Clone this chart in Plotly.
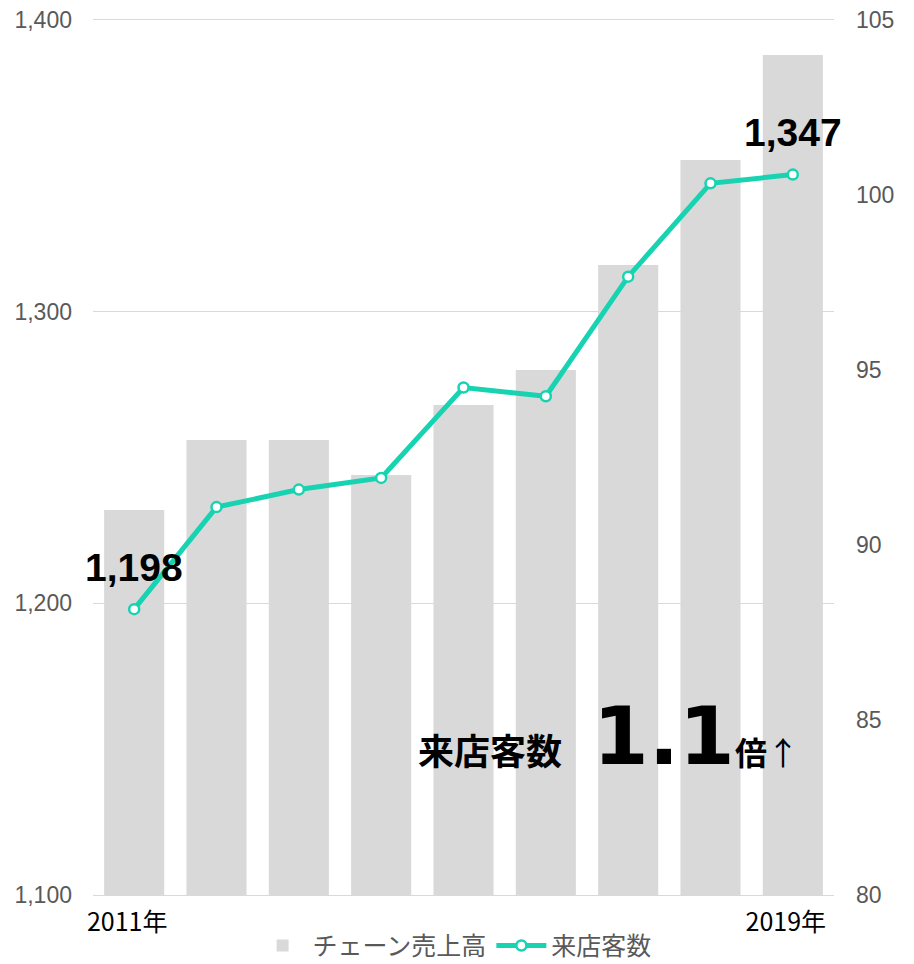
import plotly.graph_objects as go

years = [2011, 2012, 2013, 2014, 2015, 2016, 2017, 2018, 2019]
chain_sales = [91, 93, 93, 92, 94, 95, 98, 101, 104]          # right axis (bars)
customers = [1198, 1233, 1239, 1243, 1274, 1271, 1312, 1344, 1347]  # left axis (line)
x_tick_vals = [2011, 2019]
x_tick_text = ["2011年", "2019年"]
bar_name = "チェーン売上高"
line_name = "来店客数"

TEAL = "#17D3B1"
GREY = "#D9D9D9"
TICK = "#595959"

fig = go.Figure()
fig.add_trace(go.Bar(
    x=years, y=chain_sales, name=bar_name, yaxis="y",
    marker=dict(color=GREY, line=dict(width=0)),
))
fig.add_trace(go.Scatter(
    x=years, y=customers, name=line_name, yaxis="y2",
    mode="lines+markers",
    line=dict(color=TEAL, width=5),
    marker=dict(size=10, color="white", line=dict(color=TEAL, width=2.5)),
))

# value labels on first and last points
for i in (0, len(years) - 1):
    fig.add_annotation(
        x=years[i], y=customers[i], xref="x", yref="y2",
        text=f"<b>{customers[i]:,}</b>", showarrow=False,
        xanchor="center", yanchor="middle",
        yshift=42, font=dict(family="Liberation Sans", size=39, color="black"),
    )

# big callout
fig.add_annotation(x=0.536, y=0.135, xref="paper", yref="paper",
                   xanchor="center", yanchor="bottom",
                   text="<b>来店客数</b>", showarrow=False,
                   font=dict(family="Noto Sans CJK JP", size=36, color="black"))
fig.add_annotation(x=0.771, y=0.126, xref="paper", yref="paper",
                   xanchor="center", yanchor="bottom",
                   text="<b>1.1</b>", showarrow=False,
                   font=dict(family="DejaVu Sans", size=80, color="black"))
fig.add_annotation(x=0.910, y=0.136, xref="paper", yref="paper",
                   xanchor="center", yanchor="bottom",
                   text="<b>倍</b>↑", showarrow=False,
                   font=dict(family="Noto Sans CJK JP", size=32, color="black"))

fig.update_layout(
    width=906, height=956,
    margin=dict(l=85, r=80, t=12, b=69, autoexpand=False),
    plot_bgcolor="white", paper_bgcolor="white",
    bargap=0.27,
    showlegend=True,
    legend=dict(orientation="h", x=0.488, xanchor="center", y=-0.058, yanchor="middle",
                font=dict(family="Noto Sans CJK JP", size=25, color=TICK),
                itemwidth=50, traceorder="normal"),
    xaxis=dict(range=[2010.5, 2019.5], tickvals=x_tick_vals, ticktext=x_tick_text,
               showgrid=False, zeroline=False, showline=True, mirror=True,
               linecolor=GREY, linewidth=1,
               ticks="", ticklabelstandoff=5, ticklabelshift=-7,
               tickfont=dict(family="Noto Sans CJK JP", size=25, color="black")),
    yaxis=dict(range=[80, 105], dtick=5, side="right", showgrid=False,
               zeroline=False, ticks="", ticklabelstandoff=21, automargin=False,
               ticklabeloverflow="allow",
               tickfont=dict(family="Liberation Sans", size=23, color=TICK)),
    yaxis2=dict(range=[1100, 1400], dtick=100, tickformat=",", overlaying="y", side="left",
                showgrid=True, gridcolor=GREY, gridwidth=1, zeroline=False, ticks="",
                ticklabelstandoff=20, automargin=False, ticklabeloverflow="allow",
                tickfont=dict(family="Liberation Sans", size=23, color=TICK)),
)

fig.write_html("out.html")
